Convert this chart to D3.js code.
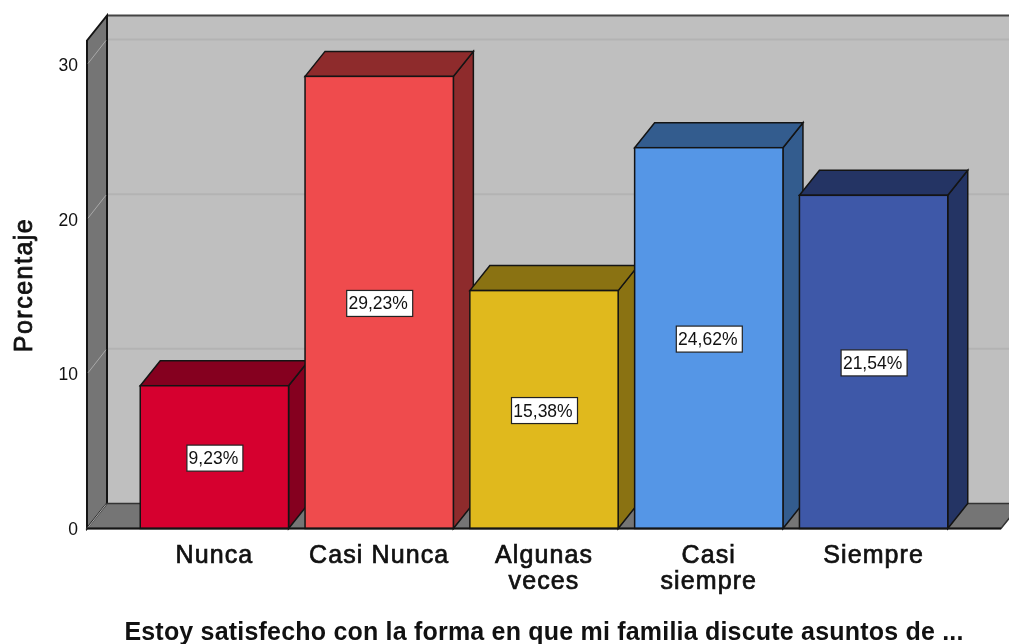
<!DOCTYPE html>
<html>
<head>
<meta charset="utf-8">
<script src="https://cdnjs.cloudflare.com/ajax/libs/d3/7.8.5/d3.min.js"></script>
<style>
body { margin: 0; background: #fff; }
svg { display: block; filter: blur(0.4px); }
text { font-family: "Liberation Sans", Arial, sans-serif; fill: #111; }
</style>
</head>
<body>
<div id="plot"></div>
<script>
/* global d3 */
var categories = ["Nunca", "Casi Nunca", "Algunas veces", "Casi siempre", "Siempre"];
var categoryLines = [["Nunca"], ["Casi Nunca"], ["Algunas", "veces"], ["Casi", "siempre"], ["Siempre"]];
var percentages = [9.23, 29.23, 15.38, 24.62, 21.54];
var valueLabels = ["9,23%", "29,23%", "15,38%", "24,62%", "21,54%"];
var frontColors = ["#D6002F", "#EF4B4D", "#E0B91D", "#5596E6", "#3E58A8"];
var sideColors = ["#85001F", "#8E2B2C", "#8A7212", "#335C8E", "#243464"];
var yTicks = [0, 10, 20, 30];

var width = 1009, height = 644;
var depthX = 20, depthY = 25;
var plotLeft = 87, plotRight = 1001, plotBottom = 528.5, plotTop = 40.5;
var edge = "#141414";

var svg = d3.select("#plot").append("svg").attr("width", width).attr("height", height);

var x = d3.scaleBand().domain(categories).range([132, 956]).paddingInner(0.1).paddingOuter(0.05);
var y = d3.scaleLinear().domain([0, 31.55]).range([plotBottom, plotTop]);

function poly(pts) {
	return "M" + pts.map(function(p) { return p[0] + "," + p[1]; }).join("L") + "Z";
}

// back wall
svg.append("path")
	.attr("d", poly([[plotLeft + depthX, plotTop - depthY], [plotRight + depthX, plotTop - depthY], [plotRight + depthX, plotBottom - depthY], [plotLeft + depthX, plotBottom - depthY]]))
	.attr("fill", "#BFBFBF");
svg.append("line")
	.attr("x1", plotLeft + depthX).attr("x2", width)
	.attr("y1", plotTop - depthY).attr("y2", plotTop - depthY)
	.attr("stroke", "#444").attr("stroke-width", 2);

// left wall and floor
svg.append("path")
	.attr("d", poly([[plotLeft, plotTop], [plotLeft + depthX, plotTop - depthY], [plotLeft + depthX, plotBottom - depthY], [plotLeft, plotBottom]]))
	.attr("fill", "#757575").attr("stroke", edge).attr("stroke-width", 2);
svg.append("path")
	.attr("d", poly([[plotLeft, plotBottom], [plotLeft + depthX, plotBottom - depthY], [plotRight + depthX, plotBottom - depthY], [plotRight, plotBottom]]))
	.attr("fill", "#757575").attr("stroke", "#333").attr("stroke-width", 1.5);

// gridlines on back wall and left wall
var grid = svg.append("g");
yTicks.forEach(function(t) {
	if (t > 0) {
		grid.append("line")
			.attr("x1", plotLeft + depthX + 1).attr("x2", width)
			.attr("y1", y(t) - depthY).attr("y2", y(t) - depthY)
			.attr("stroke", "#B3B3B3").attr("stroke-width", 2);
	}
	grid.append("line")
		.attr("x1", plotLeft + 1).attr("x2", plotLeft + depthX - 1)
		.attr("y1", y(t) - 1).attr("y2", y(t) - depthY + 1)
		.attr("stroke", "#A8A8A8").attr("stroke-width", 1);
});

// bars
var bars = svg.selectAll("g.bar").data(percentages).enter().append("g").attr("class", "bar");
bars.each(function(d, i) {
	var g = d3.select(this);
	var x0 = x(categories[i]), x1 = x0 + x.bandwidth(), yt = y(d);
	g.append("path")
		.attr("d", poly([[x1, yt], [x1 + depthX, yt - depthY], [x1 + depthX, plotBottom - depthY], [x1, plotBottom]]))
		.attr("fill", sideColors[i]).attr("stroke", edge).attr("stroke-width", 1.5);
	g.append("path")
		.attr("d", poly([[x0, yt], [x0 + depthX, yt - depthY], [x1 + depthX, yt - depthY], [x1, yt]]))
		.attr("fill", sideColors[i]).attr("stroke", edge).attr("stroke-width", 1.5);
	g.append("rect")
		.attr("x", x0).attr("y", yt).attr("width", x1 - x0).attr("height", plotBottom - yt)
		.attr("fill", frontColors[i]).attr("stroke", edge).attr("stroke-width", 1.5);
});

// value labels
var boxWidths = [56, 66, 66, 66, 66];
bars.each(function(d, i) {
	var g = d3.select(this);
	var cx = x(categories[i]) + x.bandwidth() / 2 + 0.5, cy = (y(d) + plotBottom) / 2 + 1;
	g.append("rect")
		.attr("x", cx - boxWidths[i] / 2).attr("y", cy - 13).attr("width", boxWidths[i]).attr("height", 26)
		.attr("fill", "#fff").attr("stroke", "#222").attr("stroke-width", 1.2);
	g.append("text")
		.attr("x", cx - 1.5).attr("y", cy + 6).attr("text-anchor", "middle")
		.style("font-size", "17.5px").text(valueLabels[i]);
});

// baseline
svg.append("line")
	.attr("x1", plotLeft).attr("x2", plotRight).attr("y1", plotBottom).attr("y2", plotBottom)
	.attr("stroke", edge).attr("stroke-width", 2);

// y axis
var yAxis = d3.axisLeft(y).tickValues(yTicks).tickSize(0).tickPadding(9).tickFormat(d3.format("d"));
var yG = svg.append("g").attr("transform", "translate(" + plotLeft + ",0.5)").call(yAxis);
yG.select(".domain").remove();
yG.selectAll("text").style("font-size", "17.5px").style("font-family", '"Liberation Sans", Arial, sans-serif').attr("fill", "#222");

// x axis labels
var xAxis = d3.axisBottom(x).tickSize(0).tickFormat("");
var xG = svg.append("g").attr("transform", "translate(0," + plotBottom + ")").call(xAxis);
xG.select(".domain").remove();
xG.selectAll(".tick").each(function(d, i) {
	var lines = categoryLines[i];
	var t = d3.select(this).select("text")
		.attr("y", 0).attr("dy", null)
		.attr("stroke", "#111").attr("stroke-width", 0.7)
		.style("font-size", "25px").style("font-family", '"Liberation Sans", Arial, sans-serif')
		.style("letter-spacing", "1.1px");
	lines.forEach(function(line, j) {
		t.append("tspan").attr("x", 0).attr("y", 34 + j * 26.5).text(line);
	});
});

// axis titles
svg.append("text")
	.attr("transform", "translate(32,285) rotate(-90)")
	.attr("text-anchor", "middle")
	.attr("stroke", "#111").attr("stroke-width", 0.8)
	.style("font-size", "25px").style("letter-spacing", "1.5px")
	.text("Porcentaje");
svg.append("text")
	.attr("x", 544).attr("y", 640)
	.attr("text-anchor", "middle")
	.style("font-size", "25px").style("font-weight", "bold").style("letter-spacing", "0.2px")
	.text("Estoy satisfecho con la forma en que mi familia discute asuntos de ...");
</script>
</body>
</html>
